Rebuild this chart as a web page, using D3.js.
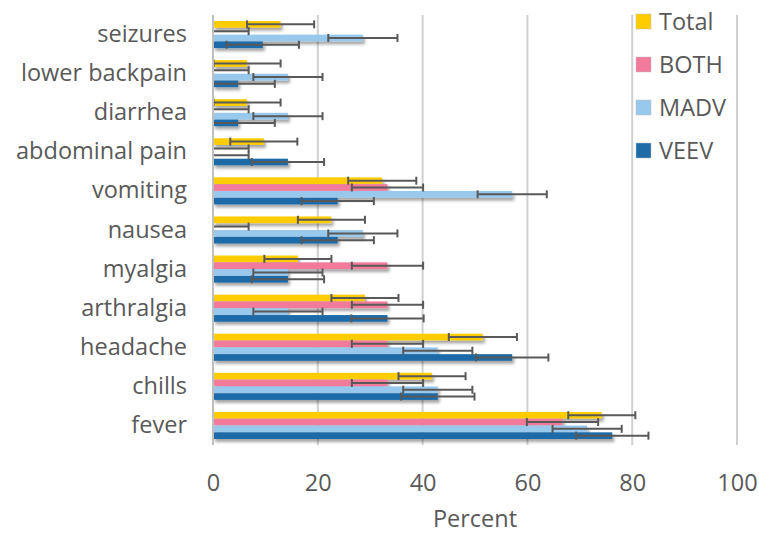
<!DOCTYPE html>
<html>
<head>
<meta charset="utf-8">
<script src="https://cdn.jsdelivr.net/npm/d3@7"></script>
<style>
  body { margin: 0; background: #fff; }
  text { font-family: "Open Sans", "Noto Sans", sans-serif; fill: #595959; }
</style>
</head>
<body>
<div id="chart"></div>
<script>
// categories, top to bottom
let symptoms = ["seizures", "lower backpain", "diarrhea", "abdominal pain", "vomiting",
  "nausea", "myalgia", "arthralgia", "headache", "chills", "fever"];
let seriesNames = ["Total", "BOTH", "MADV", "VEEV"];
let seriesColors = ["#FFCC00", "#F27A9B", "#98C8EC", "#1F6BA8"];

// percent values, same order as symptoms
let total = [12.9, 6.5, 6.5, 9.7, 32.3, 22.6, 16.2, 29.0, 51.5, 41.8, 74.2];
let both  = [0, 0, 0, 0, 33.3, 0, 33.3, 33.3, 33.3, 33.3, 66.7];
let madv  = [28.6, 14.3, 14.3, 0, 57.1, 28.6, 14.3, 14.3, 42.9, 42.9, 71.4];
let veev  = [9.5, 4.8, 4.8, 14.3, 23.8, 23.8, 14.3, 33.3, 57.1, 42.9, 76.2];

// error bar half widths
let totalErr = [6.4, 6.4, 6.4, 6.4, 6.5, 6.4, 6.4, 6.4, 6.5, 6.4, 6.4];
let bothErr  = [6.8, 6.8, 6.8, 6.8, 6.8, 6.8, 6.8, 6.8, 6.8, 6.8, 6.8];
let madvErr  = [6.6, 6.6, 6.6, 6.8, 6.6, 6.6, 6.6, 6.6, 6.6, 6.6, 6.6];
let veevErr  = [6.9, 7.0, 7.0, 6.9, 6.9, 6.9, 6.9, 6.9, 6.9, 7.0, 6.9];

let xTicks = [0, 20, 40, 60, 80, 100];

let seriesValues = [total, both, madv, veev];
let seriesErrs = [totalErr, bothErr, madvErr, veevErr];

let W = 759, H = 534;
let margin = {top: 15, right: 22, bottom: 89, left: 213};
let fontSize = "23.5px";

let svg = d3.select("#chart").append("svg")
  .attr("width", W)
  .attr("height", H);

let defs = svg.append("defs");
defs.append("filter")
  .attr("id", "shadow")
  .attr("x", "-5%").attr("y", "-50%").attr("width", "115%").attr("height", "250%")
  .append("feDropShadow")
  .attr("dx", 2).attr("dy", 3).attr("stdDeviation", 1.6)
  .attr("flood-color", "#000").attr("flood-opacity", 0.35);

let x = d3.scaleLinear()
  .domain([0, 100])
  .range([margin.left, W - margin.right]);

let y = d3.scaleBand()
  .domain(symptoms)
  .range([margin.top, H - margin.bottom])
  .paddingInner(0.3)
  .paddingOuter(0.15);

let ySub = d3.scaleBand()
  .domain(seriesNames)
  .range([0, y.bandwidth()])
  .padding(0.02);

// gridlines
svg.append("g")
  .selectAll("line")
  .data(xTicks)
  .join("line")
  .attr("x1", d => x(d)).attr("x2", d => x(d))
  .attr("y1", margin.top).attr("y2", H - margin.bottom)
  .attr("stroke", "#D0D0D0")
  .attr("stroke-width", 2);

// x axis labels
let xAxis = svg.append("g")
  .attr("transform", "translate(0," + (H - margin.bottom) + ")")
  .call(d3.axisBottom(x).tickValues(xTicks).tickSize(0).tickPadding(29));
xAxis.select(".domain").remove();
xAxis.selectAll("text").style("font-size", fontSize).attr("fill", "#595959")
  .style("font-family", "'Open Sans', 'Noto Sans', sans-serif");

// y axis labels
let yAxis = svg.append("g")
  .attr("transform", "translate(" + margin.left + ",0)")
  .call(d3.axisLeft(y).tickSize(0).tickPadding(26));
yAxis.select(".domain").remove();
yAxis.selectAll("text").style("font-size", fontSize).attr("fill", "#595959")
  .style("font-family", "'Open Sans', 'Noto Sans', sans-serif");

// bars
let groups = svg.append("g")
  .selectAll("g")
  .data(seriesNames)
  .join("g")
  .attr("fill", (d, i) => seriesColors[i])
  .attr("filter", "url(#shadow)");

groups.selectAll("rect")
  .data((s, si) => symptoms.map((c, ci) => ({c: c, s: s, v: seriesValues[si][ci]})))
  .join("rect")
  .attr("x", x(0))
  .attr("y", d => y(d.c) + ySub(d.s))
  .attr("width", d => x(d.v) - x(0))
  .attr("height", ySub.bandwidth());

// error bars
let errG = svg.append("g")
  .attr("stroke", "#595959")
  .attr("stroke-width", 2);

seriesNames.forEach((s, si) => {
  symptoms.forEach((c, ci) => {
    let v = seriesValues[si][ci], e = seriesErrs[si][ci];
    let lo = Math.max(0, v - e), hi = v + e;
    let cy = y(c) + ySub(s) + ySub.bandwidth() / 2;
    errG.append("line")
      .attr("x1", x(lo)).attr("x2", x(hi))
      .attr("y1", cy).attr("y2", cy);
    errG.append("line")
      .attr("x1", x(hi)).attr("x2", x(hi))
      .attr("y1", cy - 4).attr("y2", cy + 4);
    if (v - e > 0) {
      errG.append("line")
        .attr("x1", x(lo)).attr("x2", x(lo))
        .attr("y1", cy - 4).attr("y2", cy + 4);
    }
  });
});

// axis line at 0
svg.append("line")
  .attr("x1", x(0)).attr("x2", x(0))
  .attr("y1", margin.top).attr("y2", H - margin.bottom)
  .attr("stroke", "#BFBFBF")
  .attr("stroke-width", 2);

// x axis title
svg.append("text")
  .attr("x", (x(0) + x(100)) / 2)
  .attr("y", 527)
  .attr("text-anchor", "middle")
  .style("font-size", fontSize)
  .text("Percent");

// legend
let legend = svg.append("g")
  .attr("transform", "translate(636,14)");
let item = legend.selectAll("g")
  .data(seriesNames)
  .join("g")
  .attr("transform", (d, i) => "translate(0," + (i * 43) + ")");
item.append("rect")
  .attr("width", 15).attr("height", 15)
  .attr("fill", (d, i) => seriesColors[i])
  .attr("stroke", "#BFBFBF").attr("stroke-width", 0.5);
item.append("text")
  .attr("x", 23).attr("y", 16)
  .style("font-size", fontSize)
  .text(d => d);
</script>
</body>
</html>
